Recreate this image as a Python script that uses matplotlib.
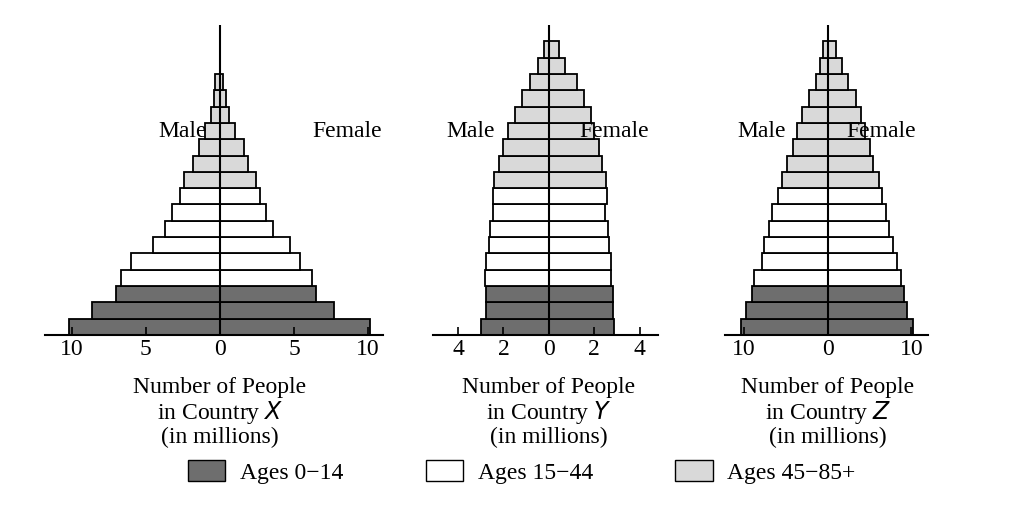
import matplotlib
matplotlib.use("Agg")
import matplotlib.pyplot as plt
from matplotlib.patches import Patch

plt.rcParams['font.family'] = ['Liberation Serif', 'DejaVu Serif']

# 18 age groups, bottom (youngest) to top; values in millions
groups = ["0-4", "5-9", "10-14", "15-19", "20-24", "25-29", "30-34", "35-39", "40-44",
          "45-49", "50-54", "55-59", "60-64", "65-69", "70-74", "75-79", "80-84", "85+"]
x_male = [10.2, 8.6, 7.0, 6.7, 6.0, 4.5, 3.7, 3.2, 2.7, 2.4, 1.8, 1.4, 1.0, 0.6, 0.4, 0.3, 0, 0]
x_female = [10.1, 7.7, 6.5, 6.2, 5.4, 4.7, 3.6, 3.1, 2.7, 2.4, 1.9, 1.6, 1.0, 0.6, 0.4, 0.2, 0, 0]
y_male = [3.0, 2.75, 2.75, 2.8, 2.75, 2.65, 2.6, 2.45, 2.45, 2.4, 2.2, 2.0, 1.8, 1.5, 1.2, 0.85, 0.5, 0.2]
y_female = [2.85, 2.8, 2.8, 2.75, 2.75, 2.65, 2.6, 2.45, 2.55, 2.5, 2.35, 2.2, 2.0, 1.85, 1.55, 1.25, 0.7, 0.45]
z_male = [10.4, 9.8, 9.1, 8.8, 7.9, 7.6, 7.0, 6.7, 5.9, 5.5, 4.9, 4.2, 3.7, 3.1, 2.3, 1.4, 0.9, 0.6]
z_female = [10.2, 9.5, 9.1, 8.8, 8.3, 7.8, 7.3, 7.0, 6.5, 6.1, 5.4, 5.0, 4.4, 4.0, 3.4, 2.4, 1.7, 1.0]

dark, white, light = "#6e6e6e", "white", "#d9d9d9"
colors = [dark] * 3 + [white] * 6 + [light] * 9

panels = [
    ("X", x_male, x_female, (-11.8, 11.0), [-10, -5, 0, 5, 10], 45, 383, (0.48, 0.79)),
    ("Y", y_male, y_female, (-5.1, 4.8), [-4, -2, 0, 2, 4], 433, 658, (0.06, 0.96)),
    ("Z", z_male, z_female, (-12.3, 12.0), [-10, 0, 10], 725, 928, (0.06, 0.94)),
]

fig = plt.figure(figsize=(10.33, 5.3), dpi=100)
W, H = 1033, 530
for name, male, female, xlim, ticks, x0, x1, lab in panels:
    ax = fig.add_axes([x0 / W, (H - 335) / H, (x1 - x0) / W, 310 / H])
    pos = range(len(groups))
    m = [-v for v in male]
    ax.barh(pos, m, height=1.0, align="edge", color=colors, edgecolor="black", linewidth=1.3)
    ax.barh(pos, female, height=1.0, align="edge", color=colors, edgecolor="black", linewidth=1.3)
    ax.axvline(0, color="black", lw=1.5)
    ax.set_xlim(*xlim)
    ax.set_ylim(0, 19)
    for s in ["top", "left", "right"]:
        ax.spines[s].set_visible(False)
    ax.spines["bottom"].set_linewidth(1.5)
    ax.set_yticks([])
    ax.set_xticks(ticks)
    ax.set_xticklabels([str(abs(t)) for t in ticks], fontsize=17)
    ax.tick_params(axis="x", direction="in", length=6, width=1.2, pad=3)
    ax.text(lab[0], 12.5, "Male", transform=ax.get_yaxis_transform(), ha="right" if lab[0] > 0.3 else "left",
            va="center", fontsize=17)
    ax.text(lab[1], 12.5, "Female", transform=ax.get_yaxis_transform(),
            ha="left" if lab[1] < 0.9 else "right", va="center", fontsize=17)
    cx = (0 - xlim[0]) / (xlim[1] - xlim[0])
    ax.text(cx, -0.17, "Number of People", transform=ax.transAxes, ha="center", va="center", fontsize=17)
    ax.text(cx, -0.25, "in Country $\\it{" + name + "}$", transform=ax.transAxes, ha="center", va="center",
            fontsize=17)
    ax.text(cx, -0.33, "(in millions)", transform=ax.transAxes, ha="center", va="center", fontsize=17)

handles = [Patch(facecolor=dark, edgecolor="black", label="Ages 0\u221214"),
           Patch(facecolor=white, edgecolor="black", label="Ages 15\u221244"),
           Patch(facecolor=light, edgecolor="black", label="Ages 45\u221285+")]
fig.legend(handles=handles, loc="center", bbox_to_anchor=(0.505, 0.11), ncol=3, frameon=False,
           fontsize=17, handlelength=1.6, handleheight=1.0, columnspacing=3.5, handletextpad=0.6)

fig.savefig("out.png", dpi=100)
